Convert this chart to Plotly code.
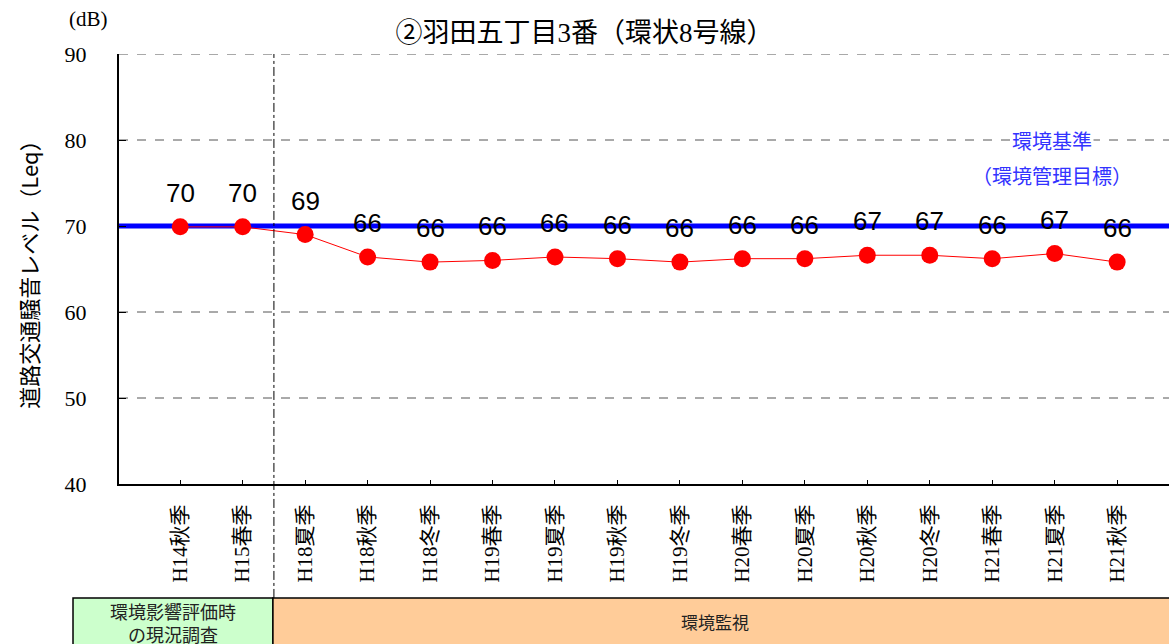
import plotly.graph_objects as go

# Survey periods (category axis) and measured Leq values [dB]
periods = ["H14秋季", "H15春季", "H18夏季", "H18秋季", "H18冬季", "H19春季",
           "H19夏季", "H19秋季", "H19冬季", "H20春季", "H20夏季", "H20秋季",
           "H20冬季", "H21春季", "H21夏季", "H21秋季"]
leq = [69.9, 69.9, 69.0, 66.4, 65.8, 66.0, 66.4, 66.2, 65.8, 66.2,
       66.2, 66.6, 66.6, 66.2, 66.8, 65.8]

standard_level = 70          # environmental standard
y_ticks = [40, 50, 60, 70, 80, 90]

title_text = "②羽田五丁目3番（環状8号線）"
y_title = "道路交通騒音レベル（Leq）"
unit_text = "(dB)"
standard_label = "環境基準"
standard_sub = "（環境管理目標）"
phase_pre = "環境影響評価時<br>の現況調査"
phase_mon = "環境監視"

SERIF = "Liberation Serif, Noto Sans CJK JP"
SANS = "Noto Sans CJK JP, Liberation Sans"

fig = go.Figure()

fig.add_trace(go.Scatter(
    x=periods, y=leq, mode="lines+markers",
    line=dict(color="#FF0000", width=1),
    marker=dict(color="#FF0000", size=17),
    showlegend=False, hoverinfo="x+y",
))

# value labels above each point
for p, v in zip(periods, leq):
    fig.add_annotation(x=p, y=v, xref="x", yref="y", text=f"{v:.0f}",
                       showarrow=False, yshift=34,
                       font=dict(family="Liberation Sans, Arial", size=26, color="black"))

shapes = []
# dashed horizontal grid (the standard line replaces the one at 70)
for t in y_ticks[1:]:
    if t == standard_level:
        continue
    shapes.append(dict(type="line", xref="paper", yref="y", x0=0, x1=1, y0=t, y1=t,
                       line=dict(color="#555555", width=1, dash="dash"), layer="below"))
shapes += [
    # environmental standard line
    dict(type="line", xref="paper", yref="y", x0=0, x1=1,
         y0=standard_level, y1=standard_level,
         line=dict(color="#0000FF", width=5), layer="below"),
    # separator between pre-assessment survey and monitoring
    dict(type="line", xref="x", yref="paper", x0=1.5, x1=1.5, y0=-0.265, y1=1,
         line=dict(color="black", width=1, dash="dashdot")),
    # phase boxes below the axis
    dict(type="rect", xref="paper", yref="paper", x0=-0.0438, x1=0.1466,
         y0=-0.40, y1=-0.265, fillcolor="#CCFFCC",
         line=dict(color="black", width=1.5)),
    dict(type="rect", xref="paper", yref="paper", x0=0.1466, x1=1.01,
         y0=-0.40, y1=-0.265, fillcolor="#FFCC99",
         line=dict(color="black", width=1.5)),
]

annotations = [
    dict(text=standard_label, xref="paper", yref="y", x=0.889, y=80,
         bgcolor="white", font=dict(family=SANS, size=20, color="#3333FF")),
    dict(text=standard_sub, xref="paper", yref="y", x=0.889, y=75.9,
         font=dict(family=SANS, size=20, color="#3333FF")),
    dict(text=unit_text, xref="paper", yref="paper", x=-0.029, y=1.081,
         font=dict(family=SERIF, size=21, color="black")),
    dict(text=phase_pre, xref="paper", yref="paper", x=0.0514, y=-0.321,
         align="center", font=dict(family=SANS, size=18, color="#222222")),
    dict(text=phase_mon, xref="paper", yref="paper", x=0.568, y=-0.320,
         font=dict(family=SANS, size=17, color="#222222")),
]
for a in annotations:
    fig.add_annotation(showarrow=False, xanchor="center", yanchor="middle", **a)

fig.update_layout(
    width=1169, height=644,
    margin=dict(l=119, r=0, t=54, b=160),
    paper_bgcolor="white", plot_bgcolor="white",
    title=dict(text=title_text, x=0.5, xanchor="center", y=0.95, yanchor="middle",
               font=dict(family=SERIF, size=27, color="black")),
    shapes=shapes,
    xaxis=dict(
        type="category", range=[-0.98, 15.83],
        showline=True, linecolor="black", linewidth=2,
        ticks="inside", ticklen=4, tickcolor="black",
        tickangle=-90, ticklabelstandoff=10,
        tickfont=dict(family=SERIF, size=21, color="black"),
        showgrid=False, zeroline=False, fixedrange=True,
    ),
    yaxis=dict(
        range=[40, 90], tickvals=y_ticks,
        showline=True, linecolor="black", linewidth=2,
        ticks="inside", ticklen=7, tickcolor="black",
        ticklabelstandoff=26,
        tickfont=dict(family=SERIF, size=22, color="black"),
        showgrid=False, zeroline=False, fixedrange=True,
        title=dict(text=y_title, standoff=20,
                   font=dict(family=SANS, size=22, color="black")),
    ),
)

fig.write_html("out.html")
